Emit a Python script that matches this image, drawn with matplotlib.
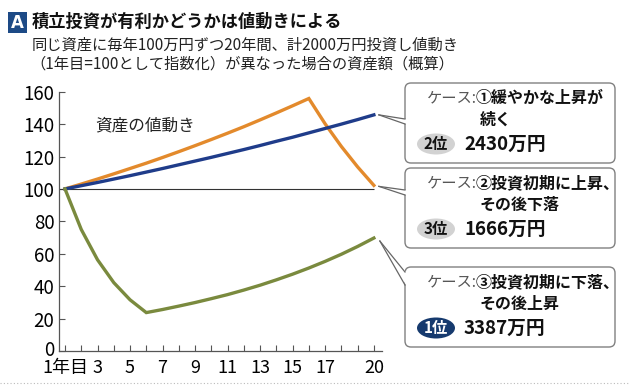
import matplotlib
matplotlib.use("Agg")
from matplotlib import pyplot as plt
from matplotlib import patches
import matplotlib.transforms as mtransforms

plt.rcParams["font.family"] = ["Noto Sans CJK JP", "DejaVu Sans"]

W, H = 630, 386

years = list(range(1, 21))
case1 = [100, 102.0, 104.0, 106.1, 108.2, 110.4, 112.6, 114.9, 117.2, 119.5,
         121.9, 124.3, 126.8, 129.4, 131.9, 134.6, 137.3, 140.0, 142.8, 145.7]
case2 = [100, 103.0, 106.1, 109.3, 112.6, 115.9, 119.4, 123.0, 126.7, 130.5,
         134.4, 138.4, 142.6, 146.9, 151.3, 155.8, 140.2, 126.2, 113.6, 102.2]
case3 = [100, 75.0, 56.3, 42.2, 31.6, 23.7, 25.6, 27.7, 29.9, 32.3,
         34.8, 37.6, 40.6, 43.9, 47.4, 51.2, 55.3, 59.7, 64.5, 69.7]
yticks = [0, 20, 40, 60, 80, 100, 120, 140, 160]
xlabels = {1: "1年目", 3: "3", 5: "5", 7: "7", 9: "9", 11: "11",
           13: "13", 15: "15", 17: "17", 20: "20"}

case_titles = ["①緩やかな上昇が", "②投資初期に上昇、", "③投資初期に下落、"]
case_second = ["続く", "その後下落", "その後上昇"]
ranks = ["2位", "3位", "1位"]
amounts = ["2430万円", "1666万円", "3387万円"]

c_orange = "#e38a2c"
c_blue = "#1f3c8a"
c_green = "#7a8a3e"
navy = "#1d4a86"

fig = plt.figure(figsize=(W / 100, H / 100), dpi=100)
px = mtransforms.Affine2D().scale(1 / W, -1 / H).translate(0, 1) + fig.transFigure

ax = fig.add_axes([58.5 / W, 35 / H, (382 - 58.5) / W, (351 - 91.7) / H])
ax.set_xlim(0.6, 20.5)
ax.set_ylim(0, 160)
ax.hlines(100, 0.6, 20, color="#333333", lw=0.8)
ax.plot(years, case2, color=c_orange, lw=2.4, solid_joinstyle="miter")
ax.plot(years, case1, color=c_blue, lw=2.4)
ax.plot(years, case3, color=c_green, lw=2.4, solid_joinstyle="miter")

for s in ["top", "right"]:
    ax.spines[s].set_visible(False)
for s in ["left", "bottom"]:
    ax.spines[s].set_color("#555555")
    ax.spines[s].set_linewidth(0.9)

ax.set_yticks(yticks)
ax.set_yticklabels([str(v) for v in yticks], fontsize=13.5)
ax.set_xticks(years)
ax.set_xticklabels([xlabels.get(y, "") for y in years], fontsize=13)
ax.tick_params(axis="both", direction="in", length=4, width=0.8, color="#555555")
ax.tick_params(axis="x", pad=6)
ax.tick_params(axis="y", pad=3)
# nudge the "0" label up a little so it clears "1年目"
zero_lab = ax.get_yticklabels()[0]
zero_lab.set_transform(zero_lab.get_transform() +
                       mtransforms.ScaledTranslation(0, 3 / 100, fig.dpi_scale_trans))
ax.text(2.85, 139, "資産の値動き", fontsize=12, va="center", ha="left", color="#222222")

# title block
fig.add_artist(patches.Rectangle((8, 12), 19, 21, transform=px, color=navy, lw=0))
fig.text(17.5, 23, "A", transform=px, color="white", fontsize=12, fontweight="bold",
         ha="center", va="center", family="DejaVu Sans")
fig.text(32, 22, "積立投資が有利かどうかは値動きによる", transform=px, fontsize=12.4,
         fontweight="bold", va="center", ha="left", color="#111111")
fig.text(32, 45, "同じ資産に毎年100万円ずつ20年間、計2000万円投資し値動き",
         transform=px, fontsize=11, va="center", ha="left", color="#222222")
fig.text(30, 64, "（1年目=100として指数化）が異なった場合の資産額（概算）",
         transform=px, fontsize=11, va="center", ha="left", color="#222222")

# callout boxes
box_tops = [83, 168, 267]
ends = [case1[-1], case2[-1], case3[-1]]
tip_off = [(5, 0), (5, 1), (6, 3)]
bases = [(119, 124), (190, 195), (272, 285)]
for i in range(3):
    top = box_tops[i]
    fig.add_artist(patches.FancyBboxPatch((405, top), 210, 80, transform=px,
                                          boxstyle="round,pad=0,rounding_size=6",
                                          fc="white", ec="#808080", lw=1.0))
    dx, dy = ax.transData.transform((20, ends[i]))
    tx, ty = dx + tip_off[i][0], H - dy + tip_off[i][1]
    b0, b1 = bases[i]
    fig.add_artist(patches.Polygon([(tx, ty), (406, b0), (406, b1)], closed=True,
                                   transform=px, fc="white", ec="none"))
    fig.add_artist(plt.Line2D([tx, 405], [ty, b0], transform=px, color="#666666", lw=0.9))
    fig.add_artist(plt.Line2D([tx, 405], [ty, b1], transform=px, color="#666666", lw=0.9))

    fig.text(477, top + 15, "ケース:", transform=px, fontsize=11, color="#555555",
             va="center", ha="right")
    fig.text(476, top + 15, case_titles[i], transform=px, fontsize=11.5,
             fontweight="bold", color="#111111", va="center", ha="left")
    fig.text(480, top + 37, case_second[i], transform=px, fontsize=11.5,
             fontweight="bold", color="#111111", va="center", ha="left")
    first = ranks[i] == "1位"
    fig.add_artist(patches.Ellipse((436, top + 61), 38, 21, transform=px,
                                   fc="#163a6e" if first else "#d2d2d2", ec="none"))
    fig.text(436, top + 61, ranks[i], transform=px, fontsize=11, fontweight="bold",
             color="white" if first else "#111111", va="center", ha="center")
    fig.text(464, top + 61, amounts[i], transform=px, fontsize=13.5,
             fontweight="bold", color="#111111", va="center", ha="left")

fig.add_artist(plt.Line2D([0, W], [383, 383], transform=px, color="#bbbbbb",
                          lw=0.8, ls=(0, (1, 2))))

fig.savefig("out.png", dpi=100)
